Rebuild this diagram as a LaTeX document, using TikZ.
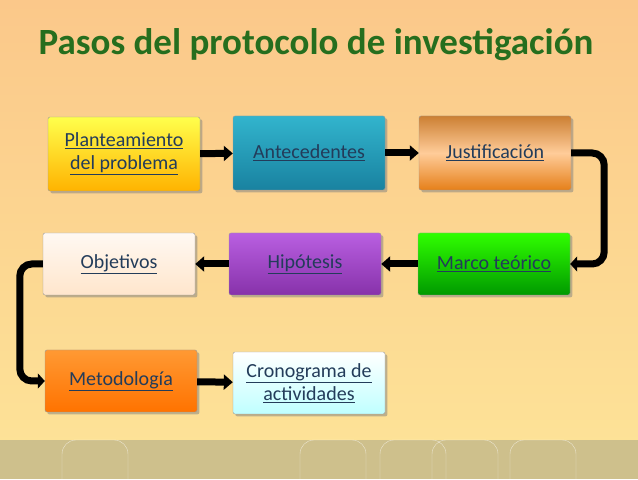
\documentclass[tikz,border=0pt]{standalone}
\usepackage{fontspec}
\setmainfont{Carlito}
\usetikzlibrary{arrows.meta,positioning,shadows}
\definecolor{titlegreen}{RGB}{38,110,30}
\definecolor{labelblue}{RGB}{35,60,90}
\definecolor{bgtop}{RGB}{251,200,138}
\definecolor{bgbot}{RGB}{253,228,152}
\definecolor{band}{RGB}{206,192,140}
\definecolor{tealtop}{RGB}{50,180,205}
\definecolor{tealbot}{RGB}{25,130,160}
\definecolor{purptop}{RGB}{185,95,225}
\definecolor{purpbot}{RGB}{135,50,170}
\tikzset{
    stepbox/.style={draw=black!40, rounded corners=2pt, minimum width=152pt, minimum height=62pt,
        align=center, font=\fontsize{20}{23}\selectfont, text=labelblue, drop shadow},
    flow/.style={line width=7pt, -{Triangle[length=9pt,width=15pt]}},
    loop/.style={line width=7pt, rounded corners=12pt, -{Triangle[length=7pt,width=15pt]}}
}
\begin{document}
\begin{tikzpicture}[x=1pt,y=1pt]
% Background
\shade[top color=bgtop, bottom color=bgbot] (0,0) rectangle (638,479);
\fill[band] (0,0) rectangle (638,39);
\foreach \xa in {62,300,380,432,510} {
  \draw[white, opacity=0.6] (\xa,0) -- (\xa,25) arc (180:90:14) -- ++(38,0) arc (90:0:14) -- ++(0,-25);
}
\useasboundingbox (0,0) rectangle (638,479);

% Title
\node[font=\fontsize{37}{40}\selectfont\bfseries, text=titlegreen] (title) at (316,434) {Pasos del protocolo de investigación};

% Boxes
\node[stepbox, minimum height=74pt, top color=yellow!70, bottom color=orange!60!yellow] (plant) at (124,325) {\underline{Planteamiento}\\\underline{del problema}};
\node[stepbox, minimum height=74pt, top color=tealtop, bottom color=tealbot] (ante) at (309,326) {\underline{Antecedentes}};
\node[stepbox, minimum height=74pt, top color=brown!80!orange, bottom color=orange!60!brown, middle color=orange!40] (just) at (495,326) {\underline{Justificación}};
\node[stepbox, top color=orange!5, bottom color=orange!20] (obj) at (119,215) {\underline{Objetivos}};
\node[stepbox, top color=purptop, bottom color=purpbot] (hip) at (305,215) {\underline{Hipótesis}};
\node[stepbox, top color=green!75!lime, bottom color=green!60!black] (marco) at (494,215) {\underline{Marco teórico}};
\node[stepbox, top color=orange!80, bottom color=orange!90!red] (meto) at (121,98) {\underline{Metodología}};
\node[stepbox, top color=white, bottom color=cyan!25] (crono) at (309,96) {\underline{Cronograma de}\\\underline{actividades}};

% Connections
\draw[flow] (plant) -- (ante);
\draw[flow] (ante) -- (just);
\draw[flow] (marco) -- (hip);
\draw[flow] (hip) -- (obj);
\draw[flow] (meto) -- (crono);
\draw[loop] (just.east) -- ++(33,0) |- (marco.east);
\draw[loop] (obj.west) -- ++(-23,0) |- (meto.west);
\end{tikzpicture}
\end{document}
